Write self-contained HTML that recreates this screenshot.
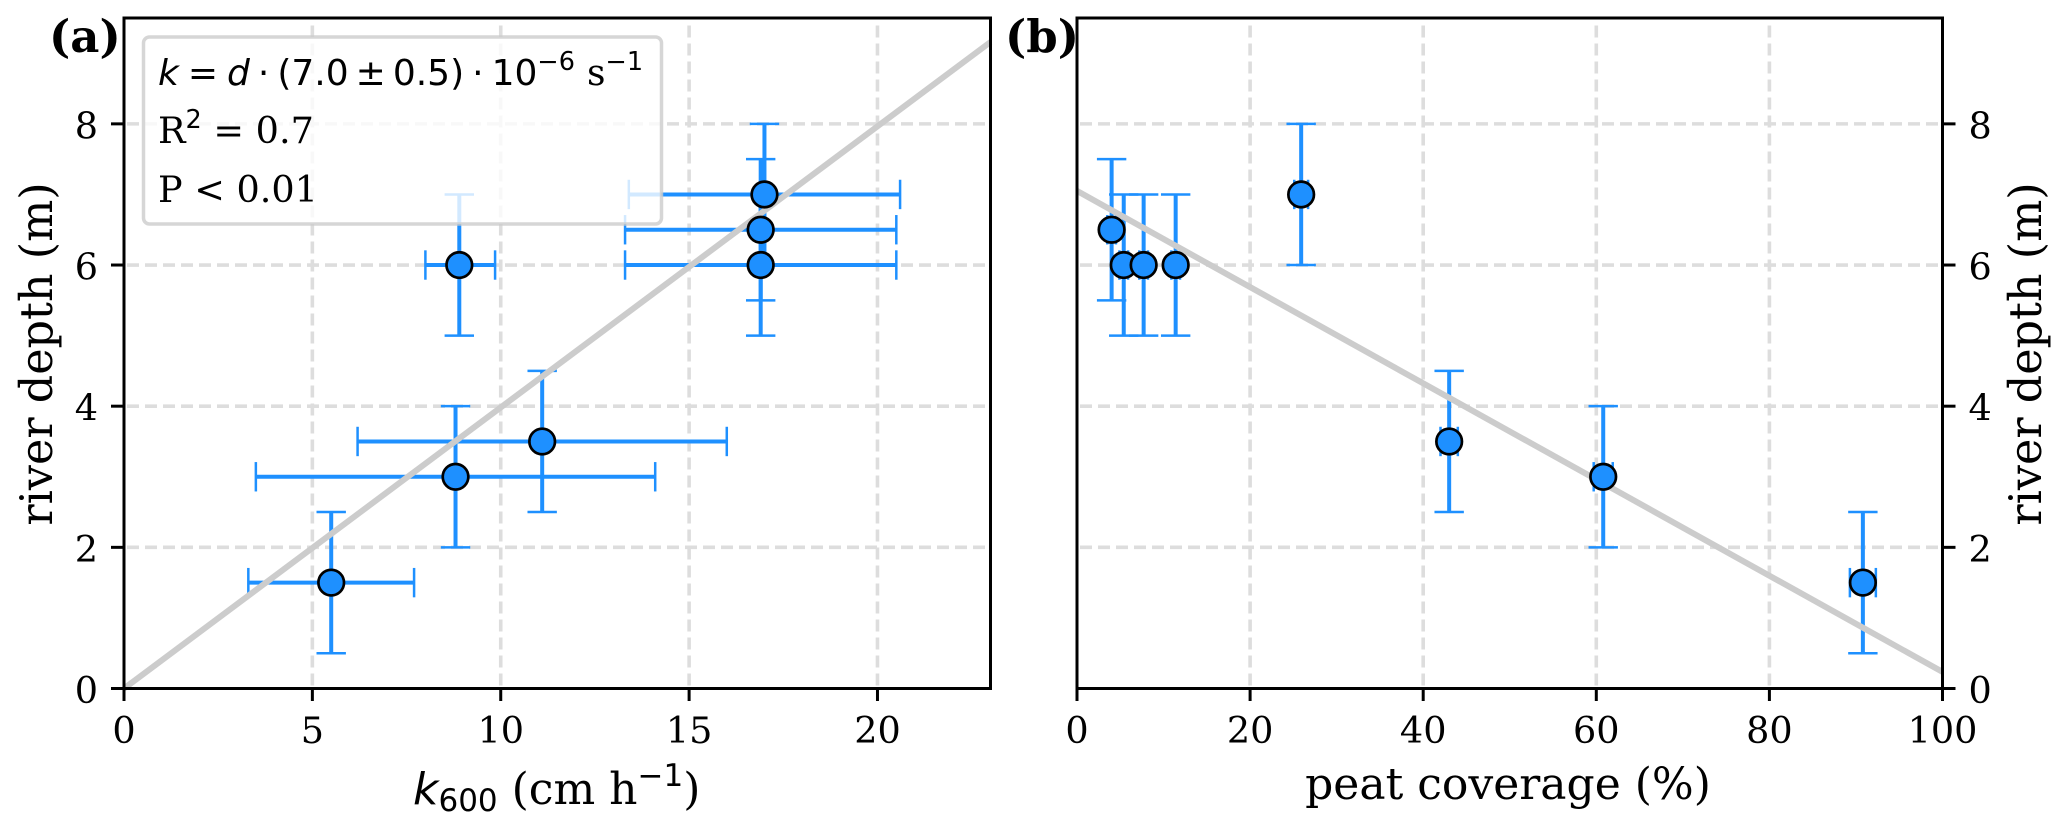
<!DOCTYPE html>
<html lang="en">
<head>
<meta charset="utf-8">
<title>River depth vs k600 and peat coverage</title>
<style>
html,body{margin:0;padding:0;background:#fff;width:2067px;height:829px;overflow:hidden}
svg{display:block}
text{font-family:"DejaVu Serif","Liberation Serif",serif;fill:#000}
.sans{font-family:"DejaVu Sans","Liberation Sans",sans-serif}
</style>
</head>
<body>
<svg id="figure" xmlns="http://www.w3.org/2000/svg" width="2067" height="829" viewBox="0 0 2067 829">
  <rect x="0" y="0" width="2067" height="829" fill="#fff"/>
  <g id="panel-a"></g>
  <g id="panel-b"></g>

  <g id="legend-a">
    <rect x="143.5" y="37" width="518" height="187" rx="6" ry="6" fill="#fff" fill-opacity="0.8" stroke="#cccccc" stroke-opacity="0.8" stroke-width="3.5"/>
    <text x="158" y="85" font-size="36"><tspan class="sans" font-style="italic">k</tspan><tspan class="sans" dx="9">=</tspan><tspan class="sans" dx="9" font-style="italic">d</tspan><tspan class="sans" dx="8">·</tspan><tspan class="sans" dx="8">(7.0</tspan><tspan class="sans" dx="7">±</tspan><tspan class="sans" dx="7">0.5)</tspan><tspan class="sans" dx="8">·</tspan><tspan class="sans" dx="8">10</tspan><tspan class="sans" dy="-15" font-size="25.5">−6</tspan><tspan dy="15" dx="12">s</tspan><tspan class="sans" dy="-15" font-size="25.5">−1</tspan></text>
    <text x="158" y="143" font-size="36.6">R<tspan class="sans" dy="-15" font-size="25.5">2</tspan><tspan dy="15"> = 0.7</tspan></text>
    <text x="158" y="202" font-size="36.6">P &lt; 0.01</text>
  </g>

  <text x="49" y="52" font-size="45" font-weight="bold">(a)</text>
  <text x="1005" y="52" font-size="45" font-weight="bold">(b)</text>

  <text x="413" y="804" font-size="44"><tspan class="sans" font-style="italic">k</tspan><tspan class="sans" dy="7" font-size="31">600</tspan><tspan dy="-7"> (cm h</tspan><tspan class="sans" dy="-18" font-size="31">−1</tspan><tspan dy="18">)</tspan></text>
  <text x="1508" y="799" font-size="44" text-anchor="middle">peat coverage (%)</text>
  <text transform="translate(52 354) rotate(-90)" font-size="44.5" text-anchor="middle">river depth (m)</text>
  <text transform="translate(2041 354) rotate(-90)" font-size="44.5" text-anchor="middle">river depth (m)</text>
</svg>

<script>
// Shared y axis values
var yTicks = [0, 2, 4, 6, 8];
var yDomain = [0, 9.5];

// Panel (a) data
var aXTicks = [0, 5, 10, 15, 20];
var aXDomain = [0, 23];
var aK600 = [5.5, 8.8, 11.1, 8.9, 16.9, 16.9, 17];
var aDepth = [1.5, 3, 3.5, 6, 6, 6.5, 7];
var aXLow = [3.3, 3.5, 6.2, 8, 13.3, 13.3, 13.4];
var aXHigh = [7.7, 14.1, 16, 9.85, 20.5, 20.5, 20.6];
var aDepthErr = [1, 1, 1, 1, 1, 1, 1];
var aFitX = [0, 23];
var aFitY = [0, 9.16];

// Panel (b) data
var bXTicks = [0, 20, 40, 60, 80, 100];
var bXDomain = [0, 100];
var bPeat = [90.8, 60.8, 43, 5.4, 7.7, 4, 11.4, 25.9];
var bDepth = [1.5, 3, 3.5, 6, 6, 6.5, 6, 7];
var bXLow = [89.3, 59.7, 42, 4.9, 7.2, 3.5, 10.9, 25.1];
var bXHigh = [92.3, 61.9, 44, 5.9, 8.2, 4.5, 11.9, 26.7];
var bDepthErr = [1, 1, 1, 1, 1, 1, 1, 1];
var bFitX = [0, 100];
var bFitY = [7.05, 0.235];

var NS = 'http://www.w3.org/2000/svg';
var BLUE = '#1e90ff';
var TOP = 18, BOTTOM = 688.5;

function make(tag, parent, attrs) {
  var el = document.createElementNS(NS, tag);
  for (var k in attrs) el.setAttribute(k, attrs[k]);
  parent.appendChild(el);
  return el;
}
function linear(domain, range) {
  return function (v) {
    return range[0] + (v - domain[0]) / (domain[1] - domain[0]) * (range[1] - range[0]);
  };
}

function drawPanel(opts) {
  var g = document.getElementById(opts.id);
  var L = opts.left, R = opts.right;
  var sx = linear(opts.xDomain, [L, R]);
  var sy = linear(yDomain, [BOTTOM, TOP]);
  var i, el, x, y;

  // grid
  opts.xTicks.forEach(function (t) {
    if (t === opts.xDomain[0] || t === opts.xDomain[1]) return;
    var el = make('line', g, {x1: sx(t), x2: sx(t), y1: BOTTOM - 3, y2: TOP, stroke: '#dddddd', 'stroke-width': 3.6, 'stroke-dasharray': '12 6'});
    
    
  });
  yTicks.forEach(function (t) {
    if (t === 0) return;
    var el = make('line', g, {x1: L + 3, x2: R, y1: sy(t), y2: sy(t), stroke: '#dddddd', 'stroke-width': 3.6, 'stroke-dasharray': '12 6'});
    
    
  });

  // error bars
  for (i = 0; i < opts.xs.length; i++) {
    x = sx(opts.xs[i]);
    y = sy(opts.ys[i]);
    var xl = sx(opts.xLow[i]), xh = sx(opts.xHigh[i]);
    var yl = sy(opts.ys[i] - opts.yErr[i]), yh = sy(opts.ys[i] + opts.yErr[i]);
    var barX = make('line', g, {x1: xl, x2: xh, y1: y, y2: y, stroke: BLUE, 'stroke-width': 4});
    
    
    var barY = make('line', g, {x1: x, x2: x, y1: yl, y2: yh, stroke: BLUE, 'stroke-width': 4});
    
    
    [xl, xh].forEach(function (cx) {
      var c = make('line', g, {x1: cx, x2: cx, y1: y - 14.7, y2: y + 14.7, stroke: BLUE, 'stroke-width': 2.5});
      
      
    });
    [yl, yh].forEach(function (cy) {
      var c = make('line', g, {x1: x - 14.7, x2: x + 14.7, y1: cy, y2: cy, stroke: BLUE, 'stroke-width': 2.5});
      
      
    });
  }

  // fit line
  el = make('line', g, {x1: sx(opts.fitX[0]), y1: sy(opts.fitY[0]), x2: sx(opts.fitX[1]), y2: sy(opts.fitY[1]), stroke: '#cccccc', 'stroke-width': 6});
  
  

  // markers
  for (i = 0; i < opts.xs.length; i++) {
    var m = make('circle', g, {cx: sx(opts.xs[i]), cy: sy(opts.ys[i]), r: 12.8, fill: BLUE, stroke: '#000', 'stroke-width': 2.7});
    
    
  }

  // spines
  el = make('rect', g, {x: L, y: TOP, width: R - L, height: BOTTOM - TOP, fill: 'none', stroke: '#000', 'stroke-width': 3});
  
  

  // x ticks
  opts.xTicks.forEach(function (t) {
    var tick = make('line', g, {x1: sx(t), x2: sx(t), y1: BOTTOM, y2: BOTTOM + 12.5, stroke: '#000', 'stroke-width': 3});
    
    
    var lab = make('text', g, {x: sx(t), y: 743, 'font-size': 36.6, 'text-anchor': 'middle'});
    lab.textContent = String(t);
    
    
  });

  // y ticks
  yTicks.forEach(function (t) {
    var onRight = opts.yRight;
    var tick = make('line', g, {x1: onRight ? R : L, x2: onRight ? R + 13 : L - 13, y1: sy(t), y2: sy(t), stroke: '#000', 'stroke-width': 3});
    
    
    var lab = make('text', g, {x: onRight ? R + 26 : L - 26, y: sy(t) + 14.5, 'font-size': 36.6, 'text-anchor': onRight ? 'start' : 'end'});
    lab.textContent = String(t);
    
    
  });
}

drawPanel({id: 'panel-a', left: 124, right: 990.5, yRight: false, xDomain: aXDomain, xTicks: aXTicks,
  xs: aK600, ys: aDepth, xLow: aXLow, xHigh: aXHigh, yErr: aDepthErr, fitX: aFitX, fitY: aFitY});
drawPanel({id: 'panel-b', left: 1077, right: 1942.5, yRight: true, xDomain: bXDomain, xTicks: bXTicks,
  xs: bPeat, ys: bDepth, xLow: bXLow, xHigh: bXHigh, yErr: bDepthErr, fitX: bFitX, fitY: bFitY});
</script>
</body>
</html>
